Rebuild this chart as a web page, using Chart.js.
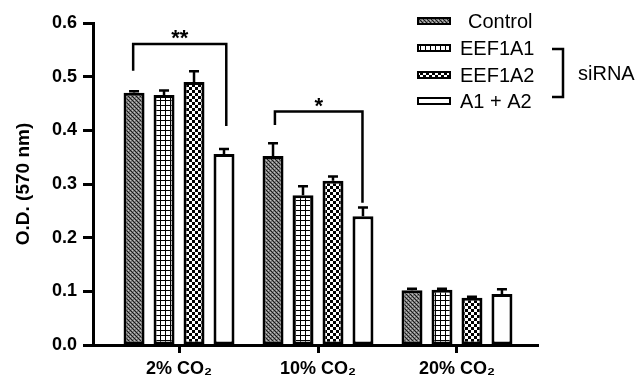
<!DOCTYPE html>
<html>
<head>
<meta charset="utf-8">
<script src="https://cdn.jsdelivr.net/npm/chart.js@4/dist/chart.umd.min.js"></script>
<style>
  body { margin: 0; background: #fff; }
  #wrap { width: 639px; height: 380px; }
</style>
</head>
<body>
<div id="wrap"><canvas id="myChart"></canvas></div>
<script>
// Data
const categories = ["2% CO₂", "10% CO₂", "20% CO₂"];
const seriesNames = ["Control", "EEF1A1", "EEF1A2", "A1 + A2"];
const controlVals = [0.470, 0.352, 0.102];
const controlErr = [0.003, 0.024, 0.003];
const eef1a1Vals = [0.466, 0.279, 0.103];
const eef1a1Err = [0.008, 0.017, 0.002];
const eef1a2Vals = [0.490, 0.306, 0.088];
const eef1a2Err = [0.020, 0.008, 0.002];
const a1a2Vals = [0.356, 0.240, 0.095];
const a1a2Err = [0.009, 0.016, 0.009];
const yTicks = [0, 0.1, 0.2, 0.3, 0.4, 0.5, 0.6];
// significance brackets (x in category units, y in O.D.)
const sigBrackets = [
  { x1: -0.33, x2: 0.34, top: 0.561, left: 0.511, right: 0.408, mark: "**" },
  { x1: 0.69, x2: 1.32, top: 0.435, left: 0.410, right: 0.265, mark: "*" }
];

const FONT = "'Liberation Sans', Arial, sans-serif";

// fill patterns
function makePattern(kind) {
  const c = document.createElement("canvas");
  const g = c.getContext("2d");
  if (kind === "diag") {
    c.width = 4; c.height = 4;
    g.fillStyle = "#7a7a7a";
    g.fillRect(0, 0, 4, 4);
    g.fillStyle = "#1a1a1a";
    for (let i = 0; i < 4; i++) g.fillRect(i, i, 1, 1);
    g.fillStyle = "#c0c0c0";
    g.fillRect(2, 0, 1, 1);
    g.fillRect(0, 2, 1, 1);
  } else if (kind === "grid") {
    c.width = 5; c.height = 5;
    g.fillStyle = "#fff";
    g.fillRect(0, 0, 5, 5);
    g.fillStyle = "#000";
    g.fillRect(0, 0, 5, 1);
    g.fillRect(0, 0, 1, 5);
  } else if (kind === "check") {
    c.width = 6; c.height = 6;
    g.fillStyle = "#fff";
    g.fillRect(0, 0, 6, 6);
    g.fillStyle = "#000";
    g.fillRect(0, 0, 3, 3);
    g.fillRect(3, 3, 3, 3);
  } else {
    return "#fff";
  }
  return g.createPattern(c, "repeat");
}

const fills = [makePattern("diag"), makePattern("grid"), makePattern("check"), makePattern("none")];
const allVals = [controlVals, eef1a1Vals, eef1a2Vals, a1a2Vals];
const allErr = [controlErr, eef1a1Err, eef1a2Err, a1a2Err];

const datasets = seriesNames.map((name, d) => ({
  label: name,
  data: allVals[d].map((v, i) => ({ x: i, y: v })),
  backgroundColor: fills[d],
  borderColor: "#000",
  borderWidth: 3,
  borderSkipped: false,
  categoryPercentage: 0.863,
  barPercentage: 0.7
}));

// upward error bars
const errorBars = {
  id: "errorBars",
  afterDatasetsDraw(chart) {
    const ctx = chart.ctx;
    const y = chart.scales.y;
    ctx.save();
    ctx.strokeStyle = "#000";
    ctx.lineWidth = 2.5;
    datasets.forEach((ds, d) => {
      const meta = chart.getDatasetMeta(d);
      meta.data.forEach((bar, i) => {
        const top = y.getPixelForValue(allVals[d][i] + allErr[d][i]);
        ctx.beginPath();
        ctx.moveTo(bar.x, bar.y);
        ctx.lineTo(bar.x, top);
        ctx.moveTo(bar.x - 5, top);
        ctx.lineTo(bar.x + 5, top);
        ctx.stroke();
      });
    });
    ctx.restore();
  }
};

// brackets, stars and the custom legend
const annotations = {
  id: "annotations",
  afterDraw(chart) {
    const ctx = chart.ctx;
    const xs = chart.scales.x;
    const ys = chart.scales.y;
    ctx.save();
    ctx.strokeStyle = "#000";
    ctx.fillStyle = "#000";
    ctx.lineWidth = 2.5;
    sigBrackets.forEach((b) => {
      const x1 = xs.getPixelForValue(b.x1);
      const x2 = xs.getPixelForValue(b.x2);
      const yt = ys.getPixelForValue(b.top);
      ctx.beginPath();
      ctx.moveTo(x1, ys.getPixelForValue(b.left));
      ctx.lineTo(x1, yt);
      ctx.lineTo(x2, yt);
      ctx.lineTo(x2, ys.getPixelForValue(b.right));
      ctx.stroke();
      ctx.font = "bold 22px " + FONT;
      ctx.textAlign = "center";
      ctx.textBaseline = "alphabetic";
      ctx.fillText(b.mark, (x1 + x2) / 2, yt + 1);
    });

    // legend
    const rows = [21, 48, 75, 101];
    ctx.font = "20px " + FONT;
    ctx.textAlign = "left";
    ctx.textBaseline = "middle";
    seriesNames.forEach((name, d) => {
      const yc = rows[d];
      ctx.fillStyle = fills[d];
      ctx.fillRect(418, yc - 3, 32, 6);
      ctx.lineWidth = 2;
      ctx.strokeStyle = "#000";
      ctx.strokeRect(418, yc - 3, 32, 6);
      ctx.fillStyle = "#000";
      ctx.fillText(name, d === 0 ? 468 : 460, yc + 1);
    });
    ctx.lineWidth = 2.5;
    ctx.beginPath();
    ctx.moveTo(552, 49);
    ctx.lineTo(563, 49);
    ctx.lineTo(563, 97);
    ctx.lineTo(552, 97);
    ctx.stroke();
    ctx.fillText("siRNA", 578, 74);
    ctx.restore();
  }
};

const myChart = new Chart(document.getElementById("myChart"), {
  type: "bar",
  data: { datasets: datasets },
  options: {
    responsive: true,
    maintainAspectRatio: false,
    animation: false,
    layout: { padding: { left: 0, right: 101, top: 23, bottom: 0 } },
    plugins: { legend: { display: false }, tooltip: { enabled: false } },
    scales: {
      x: {
        type: "linear",
        offset: false,
        min: -0.619,
        max: 2.583,
        afterBuildTicks(scale) {
          scale.ticks = categories.map((c, i) => ({ value: i }));
        },
        afterFit(scale) { scale.height = 35; },
        border: { display: true, color: "#000", width: 3 },
        grid: { offset: false, drawOnChartArea: false, drawTicks: true, tickLength: 8, tickWidth: 3, tickColor: "#000" },
        ticks: {
          autoSkip: false,
          maxRotation: 0,
          padding: 5,
          color: "#000",
          font: { family: FONT, size: 18, weight: "bold" },
          callback: (v) => categories[v]
        }
      },
      y: {
        min: 0,
        max: 0.6,
        afterBuildTicks(scale) {
          scale.ticks = yTicks.map((v) => ({ value: v }));
        },
        afterFit(scale) { scale.width = 93; },
        border: { display: true, color: "#000", width: 3 },
        grid: { drawOnChartArea: false, drawTicks: true, tickLength: 10, tickWidth: 3, tickColor: "#000" },
        ticks: {
          padding: 6,
          color: "#000",
          font: { family: FONT, size: 18, weight: "bold" },
          callback: (v) => v.toFixed(1)
        },
        title: {
          display: true,
          text: "O.D. (570 nm)",
          color: "#000",
          padding: { top: 12, bottom: 0 },
          font: { family: FONT, size: 19, weight: "bold" }
        }
      }
    }
  },
  plugins: [errorBars, annotations]
});
</script>
</body>
</html>
